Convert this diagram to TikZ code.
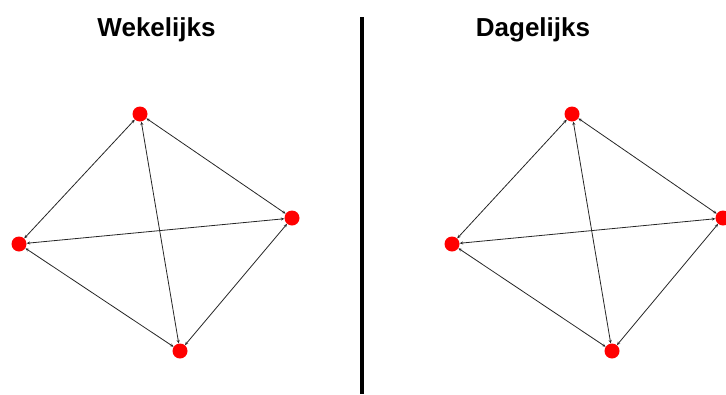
\documentclass[tikz,border=0pt]{standalone}
\usepackage{fontspec}
\setmainfont{Liberation Sans}
\usetikzlibrary{arrows.meta}
\begin{document}
\begin{tikzpicture}[x=1pt,y=-1pt,
  vert/.style={circle,fill=red,draw=none,minimum size=15pt,inner sep=0pt},
  edge/.style={line width=0.8pt,draw=black!85,{Stealth[length=3.5pt,width=3pt]}-{Stealth[length=3.5pt,width=3pt]}},
  title/.style={font=\bfseries\fontsize{26}{30}\selectfont,anchor=base,inner sep=0pt}]
\useasboundingbox (0,0) rectangle (726,394);
\node[title] (t1) at (156.5,36) {Wekelijks};
\node[title] (t2) at (533,36) {Dagelijks};
\coordinate (dtop) at (362,17);
\coordinate (dbot) at (362,394);
\draw[line width=4pt] (dtop) -- (dbot);
% left graph
\node[vert] (a1) at (140,114) {};
\node[vert] (b1) at (292,218) {};
\node[vert] (c1) at (19,244) {};
\node[vert] (d1) at (180,351) {};
\draw[edge] (a1) -- (b1);
\draw[edge] (a1) -- (c1);
\draw[edge] (a1) -- (d1);
\draw[edge] (b1) -- (c1);
\draw[edge] (b1) -- (d1);
\draw[edge] (c1) -- (d1);
% right graph
\node[vert] (a2) at (572,114) {};
\node[vert] (b2) at (723,218) {};
\node[vert] (c2) at (452,244) {};
\node[vert] (d2) at (612,351) {};
\draw[edge] (a2) -- (b2);
\draw[edge] (a2) -- (c2);
\draw[edge] (a2) -- (d2);
\draw[edge] (b2) -- (c2);
\draw[edge] (b2) -- (d2);
\draw[edge] (c2) -- (d2);
\end{tikzpicture}
\end{document}
